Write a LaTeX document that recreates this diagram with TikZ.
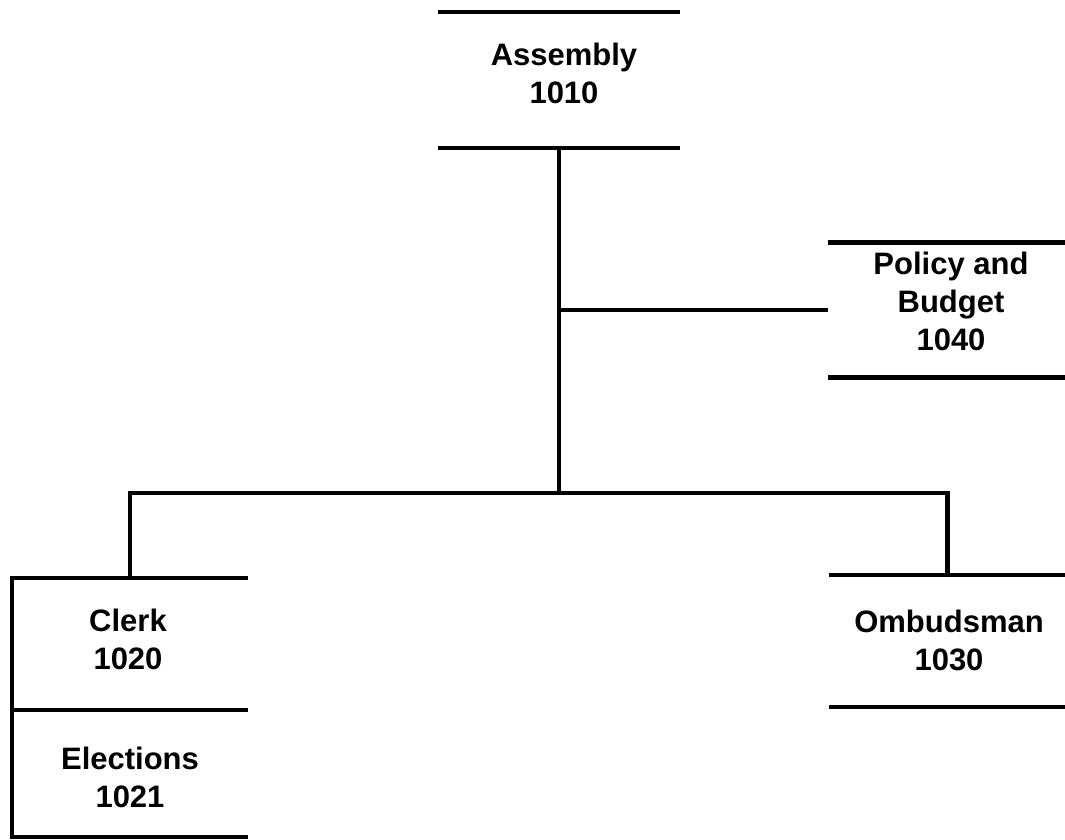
\documentclass[tikz,border=0pt]{standalone}
\usepackage{fontspec}
\setmainfont{Liberation Sans}
\begin{document}
\begin{tikzpicture}[x=1pt,y=-1pt,line width=4.5pt,
  lbl/.style={font=\bfseries\fontsize{31}{38}\selectfont,align=center,anchor=base,inner sep=0pt},
  unit/.style={inner sep=0pt,outer sep=0pt}]
\useasboundingbox (0,0) rectangle (1065,840);
% invisible unit frames
\node[unit,minimum width=242pt,minimum height=136pt] (assembly) at (559,80) {};
\node[unit,minimum width=239pt,minimum height=135pt] (policy) at (947.5,310) {};
\node[unit,minimum width=236pt,minimum height=132pt] (clerk) at (130,644) {};
\node[unit,minimum width=236pt,minimum height=127pt] (elections) at (130,773.5) {};
\node[unit,minimum width=237pt,minimum height=132pt] (ombudsman) at (947.5,641) {};
% texts (anchor base = baseline of last line)
\node[lbl] (tassembly) at (564,104) {Assembly\\1010};
\node[lbl] (tpolicy) at (951,350) {Policy and\\Budget\\1040};
\node[lbl] (tclerk) at (128,669) {Clerk\\1020};
\node[lbl] (telections) at (130,807) {Elections\\1021};
\node[lbl] (tombudsman) at (949,670) {Ombudsman\\1030};
% frame lines
\draw (assembly.north west) -- (assembly.north east);
\draw (assembly.south west) -- (assembly.south east);
\draw (policy.north west) -- (policy.north east);
\draw (policy.south west) -- (policy.south east);
\draw (ombudsman.north west) -- (ombudsman.north east);
\draw (ombudsman.south west) -- (ombudsman.south east);
\draw (clerk.north east) -- (clerk.north west) -- (elections.south west) -- (elections.south east);
\draw (clerk.south west) -- (clerk.south east);
% connectors
\coordinate (hub) at (559,493);
\draw (assembly.south) -- (hub);
\draw (assembly.south |- policy.west) -- (policy.west);
\draw (hub) -| (clerk.north);
\draw (hub) -| (ombudsman.north);
\end{tikzpicture}
\end{document}
